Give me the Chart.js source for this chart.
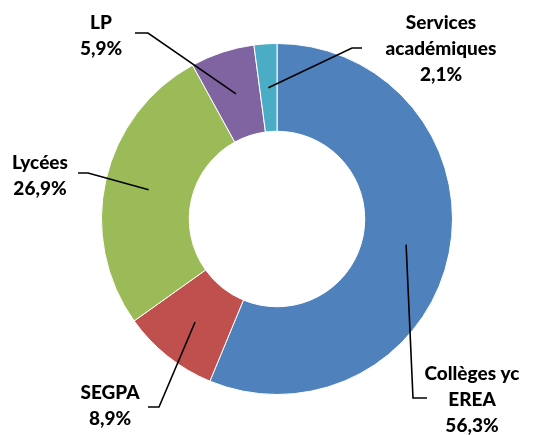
<!DOCTYPE html>
<html>
<head>
<meta charset="utf-8">
<script src="https://cdn.jsdelivr.net/npm/chart.js@4"></script>
<style>
  html, body { margin: 0; padding: 0; background: #fff; }
  #wrap { width: 535px; height: 435px; }
</style>
</head>
<body>
<div id="wrap"><canvas id="donut"></canvas></div>
<script>
// categories, clockwise from 12 o'clock
const categories = [['Collèges yc', 'EREA'], 'SEGPA', 'Lycées', 'LP', ['Services', 'académiques']];
const shares = [56.3, 8.9, 26.9, 5.9, 2.1];
const colors = ['#4F81BD', '#C0504D', '#9BBB59', '#8064A2', '#4BACC6'];

// where each label sits and how its leader line bends (elbow, then end)
const labelLayout = [
  { x: 472, y: 374, elbow: [413, 398], end: [427, 398] },
  { x: 110, y: 393, elbow: [159, 407], end: [148, 407] },
  { x: 40,  y: 163, elbow: [88, 173],  end: [78, 173] },
  { x: 101, y: 23,  elbow: [148, 33],  end: [135, 33] },
  { x: 441, y: 23,  elbow: [352, 48],  end: [362, 48] }
];

function pct(v) {
  return v.toFixed(1).replace('.', ',') + '%';
}

const calloutLabels = {
  id: 'calloutLabels',
  afterDatasetsDraw(chart) {
    const ctx = chart.ctx;
    const arcs = chart.getDatasetMeta(0).data;
    ctx.save();
    arcs.forEach((arc, i) => {
      const lay = labelLayout[i];
      const anchor = arc.tooltipPosition();
      ctx.beginPath();
      ctx.moveTo(anchor.x, anchor.y);
      ctx.lineTo(lay.elbow[0], lay.elbow[1]);
      ctx.lineTo(lay.end[0], lay.end[1]);
      ctx.strokeStyle = '#000';
      ctx.lineWidth = 1.6;
      ctx.stroke();

      const name = [].concat(chart.data.labels[i]);
      const lines = name.concat(pct(shares[i]));
      ctx.fillStyle = '#000';
      ctx.font = '900 19px Lato';
      ctx.textAlign = 'center';
      ctx.textBaseline = 'middle';
      lines.forEach((t, k) => ctx.fillText(t, lay.x, lay.y + k * 26));
    });
    ctx.restore();
  }
};

new Chart(document.getElementById('donut'), {
  type: 'doughnut',
  data: {
    labels: categories,
    datasets: [{
      data: shares,
      backgroundColor: colors,
      borderColor: '#fff',
      borderWidth: 1
    }]
  },
  options: {
    responsive: true,
    maintainAspectRatio: false,
    animation: false,
    cutout: '50%',
    layout: { padding: { top: 43, bottom: 40, left: 100, right: 81 } },
    plugins: {
      legend: { display: false },
      tooltip: { enabled: false }
    }
  },
  plugins: [calloutLabels]
});
</script>
</body>
</html>
